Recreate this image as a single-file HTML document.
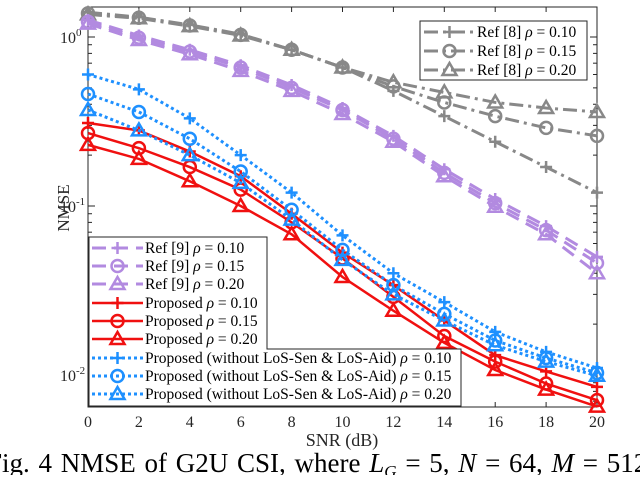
<!DOCTYPE html>
<html><head><meta charset="utf-8"><style>
body{margin:0;background:#fff;width:640px;height:475px;overflow:hidden}
svg{font-family:"Liberation Serif",serif}
</style></head><body>
<svg id="c" width="640" height="475">
<text x="-13" y="472" font-size="27" word-spacing="2">Fig. 4 NMSE of G2U CSI, where <tspan font-style="italic">L</tspan><tspan font-style="italic" font-size="17" dy="5">G</tspan><tspan dy="-5"> = 5, </tspan><tspan font-style="italic">N</tspan> = 64, <tspan font-style="italic">M</tspan> = 512</text>
</svg>
<script>
const snr=[0,2,4,6,8,10,12,14,16,18,20];
const xTicks=[0,2,4,6,8,10,12,14,16,18,20];
const ref8_010=[1.4,1.31,1.18,1.04,0.84,0.66,0.48,0.34,0.24,0.17,0.12];
const ref8_015=[1.38,1.3,1.17,1.03,0.84,0.66,0.51,0.41,0.34,0.29,0.26];
const ref8_020=[1.36,1.29,1.16,1.02,0.84,0.66,0.54,0.47,0.41,0.38,0.36];
const ref9_010=[1.26,1.02,0.84,0.68,0.52,0.38,0.26,0.165,0.11,0.076,0.05];
const ref9_015=[1.23,0.99,0.82,0.66,0.5,0.37,0.25,0.157,0.104,0.072,0.046];
const ref9_020=[1.2,0.96,0.79,0.63,0.48,0.35,0.24,0.15,0.099,0.068,0.04];
const prop_010=[0.31,0.28,0.21,0.15,0.09,0.053,0.034,0.021,0.0131,0.0105,0.0085];
const prop_015=[0.27,0.22,0.17,0.125,0.08,0.049,0.029,0.017,0.012,0.0089,0.0071];
const prop_020=[0.23,0.19,0.14,0.10,0.068,0.038,0.024,0.0155,0.0107,0.0082,0.0065];
const wo_010=[0.6,0.49,0.33,0.2,0.12,0.067,0.04,0.027,0.018,0.0137,0.011];
const wo_015=[0.46,0.36,0.25,0.16,0.095,0.055,0.034,0.023,0.016,0.0126,0.0103];
const wo_020=[0.37,0.28,0.2,0.137,0.083,0.048,0.03,0.021,0.015,0.012,0.0099];
const L=88,R=597,T=7,B=407,Y0=37,DEC=169;
const NS="http://www.w3.org/2000/svg",svg=document.getElementById('c');
const X=v=>L+(v-0)/20*(R-L);
const Y=v=>Y0-Math.log10(v)*DEC;
function el(t,a,p){const e=document.createElementNS(NS,t);for(const k in a)e.setAttribute(k,a[k]);(p||svg).appendChild(e);return e;}
const ax=el('g',{});


el('rect',{x:L,y:T,width:R-L,height:B-T,fill:'none',stroke:'#262626','stroke-width':1},ax);
xTicks.forEach(t=>{
 el('line',{x1:X(t),x2:X(t),y1:B,y2:B-5,stroke:'#262626'},ax);
 el('line',{x1:X(t),x2:X(t),y1:T,y2:T+5,stroke:'#262626'},ax);
 const tx=el('text',{x:X(t),y:427,'text-anchor':'middle','font-size':16,fill:'#262626'},ax);
 tx.textContent=t;
 
 
});
for(let d=-3;d<=0;d++){for(let m=1;m<10;m++){const v=m*Math.pow(10,d);const y=Y(v);if(y<T||y>B)continue;const len=m==1?7:4;
 el('line',{x1:L,x2:L+len,y1:y,y2:y,stroke:'#262626'},ax);el('line',{x1:R,x2:R-len,y1:y,y2:y,stroke:'#262626'},ax);}}
[0,-1,-2].forEach(d=>{const tx=el('text',{x:60,y:Y(Math.pow(10,d))+6,'font-size':16,fill:'#262626'},ax);
 tx.innerHTML='10<tspan dy="-7" font-size="11">'+d+'</tspan>';
 
 });
const xl=el('text',{x:342,y:446,'text-anchor':'middle','font-size':18,fill:'#262626'});xl.textContent='SNR (dB)';


const yl=el('text',{x:0,y:0,'text-anchor':'middle','font-size':17,fill:'#262626',transform:'translate(69,208) rotate(-90)'});yl.textContent='NMSE';


function marker(g,type,x,y,c){
 if(type=='+'){el('path',{d:`M${x-6},${y}H${x+6}M${x},${y-6}V${y+6}`,stroke:c,'stroke-width':2.5,fill:'none'},g);}
 else if(type=='o'){el('circle',{cx:x,cy:y,r:6,stroke:c,'stroke-width':2.5,fill:'none'},g);}
 else el('path',{d:`M${x},${y-7}L${x+7},${y+5}L${x-7},${y+5}Z`,stroke:c,'stroke-width':2.5,fill:'none'},g);
}
const gray='#888',purp='#b28ae0',red='#f01010',blue='#1e90ff';
const series=[
 {d:ref8_010,c:gray,m:'+',da:'14,5,3,5',w:3,n:'Ref [8]',r:'0.10'},
 {d:ref8_015,c:gray,m:'o',da:'14,5,3,5',w:3,n:'Ref [8]',r:'0.15'},
 {d:ref8_020,c:gray,m:'t',da:'14,5,3,5',w:3,n:'Ref [8]',r:'0.20'},
 {d:ref9_010,c:purp,m:'+',da:'14,8',w:3,n:'Ref [9]',r:'0.10'},
 {d:ref9_015,c:purp,m:'o',da:'14,8',w:3,n:'Ref [9]',r:'0.15'},
 {d:ref9_020,c:purp,m:'t',da:'14,8',w:3,n:'Ref [9]',r:'0.20'},
 {d:prop_010,c:red,m:'+',da:'',w:2.5,n:'Proposed',r:'0.10'},
 {d:prop_015,c:red,m:'o',da:'',w:2.5,n:'Proposed',r:'0.15'},
 {d:prop_020,c:red,m:'t',da:'',w:2.5,n:'Proposed',r:'0.20'},
 {d:wo_010,c:blue,m:'+',da:'3,3',w:3,n:'Proposed (without LoS-Sen &amp; LoS-Aid)',r:'0.10'},
 {d:wo_015,c:blue,m:'o',da:'3,3',w:3,n:'Proposed (without LoS-Sen &amp; LoS-Aid)',r:'0.15'},
 {d:wo_020,c:blue,m:'t',da:'3,3',w:3,n:'Proposed (without LoS-Sen &amp; LoS-Aid)',r:'0.20'}];
const lg=el('g',{});


el('path',{d:'M89,237H267V349H461V406H89Z',fill:'#fff',stroke:'#262626'},lg);
series.forEach((s,i)=>{
 const g=el('g',{});
 
 
 el('polyline',{points:snr.map((x,j)=>X(x)+','+Y(s.d[j])).join(' '),fill:'none',stroke:s.c,'stroke-width':s.w,'stroke-dasharray':s.da},g);
 snr.forEach((x,j)=>marker(g,s.m,X(x),Y(s.d[j]),s.c));
});
function entries(g,items,x0,x1,rows){
 items.forEach((s,i)=>{const yy=rows[i];
  el('line',{x1:x0,x2:x1,y1:yy,y2:yy,stroke:s.c,'stroke-width':s.w,'stroke-dasharray':s.da},g);
  marker(g,s.m,(x0+x1)/2,yy,s.c);
  const t=el('text',{x:x1+2,y:yy+5,'font-size':15.5,fill:'#000'},g);
  t.innerHTML=s.n+' <tspan font-style="italic">ρ</tspan> = '+s.r;
  
  });
}
el('rect',{x:89.5,y:351,width:371,height:54.5,fill:'#fff'},lg);
svg.appendChild(lg);
el('path',{d:'M89,237H267V349H461V406H89Z',fill:'none',stroke:'#262626'},lg);
entries(lg,series.slice(3),92,143,[248,266,284,303,321,339,358,376,394]);
const tg=el('g',{});


el('rect',{x:420,y:21,width:167,height:59,fill:'#fff',stroke:'#262626'},tg);
entries(tg,series.slice(0,3),424,475,[32,51,70]);
</script>
</body></html>
